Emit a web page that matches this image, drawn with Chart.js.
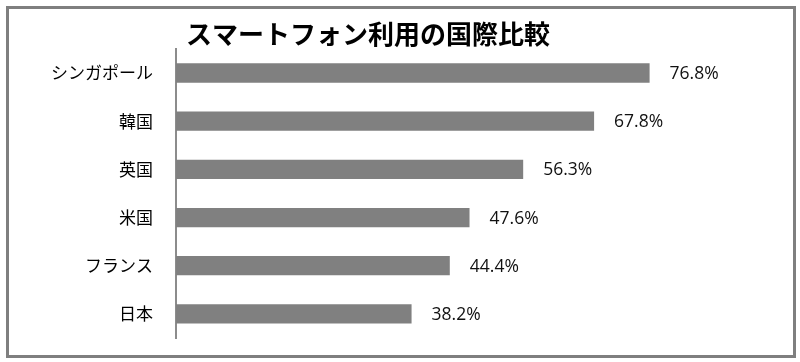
<!DOCTYPE html>
<html>
<head>
<meta charset="utf-8">
<script src="https://cdn.jsdelivr.net/npm/chart.js@4.4.1/dist/chart.umd.min.js"></script>
<style>
  body { margin: 0; background: #fff; }
  #wrap { position: relative; width: 800px; height: 362px; }
  #frame { position: absolute; left: 6px; top: 6px; width: 790px; height: 352px;
           box-sizing: border-box; border: 3px solid #7f7f7f; pointer-events: none; }
</style>
</head>
<body>
<div id="wrap">
  <canvas id="chart" width="800" height="362"></canvas>
  <div id="frame"></div>
</div>
<script>
var countries = ['シンガポール', '韓国', '英国', '米国', 'フランス', '日本'];
var usage = [76.8, 67.8, 56.3, 47.6, 44.4, 38.2];
var chartTitle = 'スマートフォン利用の国際比較';

// value labels to the right of each bar
var valueLabels = {
  id: 'valueLabels',
  afterDatasetsDraw: function(chart) {
    var ctx = chart.ctx;
    var meta = chart.getDatasetMeta(0);
    ctx.save();
    ctx.font = '17.5px "Open Sans", sans-serif';
    ctx.fillStyle = '#111';
    ctx.textAlign = 'left';
    ctx.textBaseline = 'middle';
    meta.data.forEach(function(bar, i) {
      ctx.fillText(usage[i].toFixed(1) + '%', bar.x + 20, bar.y + 1);
    });
    ctx.restore();
  }
};

var ctx = document.getElementById('chart').getContext('2d');
new Chart(ctx, {
  type: 'bar',
  data: {
    labels: countries,
    datasets: [{
      data: usage,
      backgroundColor: '#808080',
      borderWidth: 0,
      categoryPercentage: 0.4,
      barPercentage: 1
    }]
  },
  options: {
    indexAxis: 'y',
    responsive: false,
    animation: false,
    layout: { padding: { top: 19, bottom: 24, left: 5, right: 69 } },
    plugins: {
      legend: { display: false },
      tooltip: { enabled: false },
      title: {
        display: true,
        text: chartTitle,
        color: '#000',
        font: { family: '"Noto Sans CJK JP", sans-serif', size: 26, weight: 'bold', lineHeight: 1.15 },
        padding: { top: 0, bottom: 0 }
      }
    },
    scales: {
      x: {
        display: false,
        min: 0,
        max: 90
      },
      y: {
        afterFit: function(scale) {
          scale.width = 171;
          scale.paddingTop = 0;
          scale.paddingBottom = 0;
        },
        grid: { display: false, drawTicks: false },
        border: { display: true, color: '#8c8c8c', width: 2 },
        ticks: {
          color: '#000',
          padding: 23,
          font: { family: '"Noto Sans CJK JP", sans-serif', size: 17 }
        }
      }
    }
  },
  plugins: [valueLabels]
});
</script>
</body>
</html>
